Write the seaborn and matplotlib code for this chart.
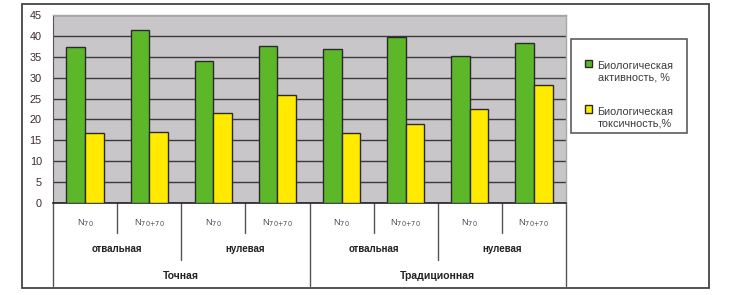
import matplotlib
matplotlib.use('Agg')
import matplotlib.pyplot as plt
from matplotlib.patches import Rectangle, Patch
import numpy as np
import pandas as pd
import seaborn as sns

# data
positions = ['0', '1', '2', '3', '4', '5', '6', '7']
n_labels = [r'N$_{70}$', r'N$_{70{+}70}$'] * 4
tillage = ['отвальная', 'нулевая', 'отвальная', 'нулевая']
technology = ['Точная', 'Традиционная']
activity = [37.4, 41.5, 34.0, 37.6, 36.8, 39.8, 35.2, 38.2]
toxicity = [16.7, 16.9, 21.6, 25.8, 16.7, 18.9, 22.4, 28.3]
series = ['Биологическая\nактивность, %', 'Биологическая\nтоксичность,%']

GREEN = '#5db829'
YELLOW = '#ffea00'
BG = '#c9c6c9'
EDGE = '#2a2a2a'

df = pd.DataFrame({
    'pos': positions * 2,
    'value': activity + toxicity,
    'series': [series[0]] * 8 + [series[1]] * 8,
})

sns.set_style('white')
plt.rcParams['font.family'] = ['Liberation Sans', 'DejaVu Sans']

W, H = 731, 295
fig = plt.figure(figsize=(W / 100, H / 100), dpi=100)
ax = fig.add_axes([53 / W, 1 - 203 / H, 513 / W, 188 / H])
ax.set_facecolor(BG)

sns.barplot(data=df, x='pos', y='value', hue='series', order=positions,
            palette=[GREEN, YELLOW], width=0.58, edgecolor=EDGE,
            linewidth=1.0, saturation=1, ax=ax, legend=False, zorder=3)

ax.set_ylim(0, 45)
ax.set_xlim(-0.5, 7.5)
ax.set_yticks(np.arange(0, 46, 5))
ax.yaxis.grid(True, color='#3a3a3a', linewidth=1.0, zorder=0)
ax.set_axisbelow(True)
ax.tick_params(axis='y', direction='out', length=5, width=1, color='#333333',
               labelsize=7.8, labelcolor='#3a2a2a', pad=3)
ax.tick_params(axis='x', length=0)
ax.set_xticks([])
ax.set_xlabel('')
ax.set_ylabel('')
for side in ['top', 'right']:
    ax.spines[side].set_color('#a8a8a8')
    ax.spines[side].set_linewidth(1)
ax.spines['left'].set_color('#555555')
ax.spines['bottom'].set_color('#222222')
ax.spines['bottom'].set_linewidth(1.2)

# category axis: three label rows with separators
tr = ax.get_xaxis_transform()
ax_h = 188.0


def yax(py):
    return -(py - 203) / ax_h


for i, lab in enumerate(n_labels):
    ax.text(i, yax(223), lab, transform=tr, ha='center', va='center',
            fontsize=6.8, color='#4a4a5a')
for j, lab in enumerate(tillage):
    ax.text(2 * j + 0.5, yax(249), lab, transform=tr, ha='center', va='center',
            fontsize=7, fontweight='bold', color='#222222')
for k, lab in enumerate(technology):
    ax.text(4 * k + 1.5, yax(276), lab, transform=tr, ha='center', va='center',
            fontsize=7.5, fontweight='bold', color='#222222')

seps = [(0.5, 233), (2.5, 233), (4.5, 233), (6.5, 233),
        (1.5, 260), (5.5, 260), (3.5, 286), (-0.5, 286), (7.5, 286)]
for xs, py in seps:
    ax.plot([xs, xs], [0, yax(py)], transform=tr, color='#555555',
            linewidth=1, clip_on=False)

# legend
handles = [Patch(facecolor=GREEN, edgecolor=EDGE, label=series[0]),
           Patch(facecolor=YELLOW, edgecolor=EDGE, label=series[1])]
leg = fig.legend(handles=handles, loc='upper left',
                 bbox_to_anchor=(571 / W, 1 - 39 / H), fontsize=7.8,
                 frameon=True, fancybox=False, edgecolor='#333333',
                 handlelength=0.7, handleheight=0.7, handletextpad=0.5,
                 labelspacing=2.2, borderpad=1.25, borderaxespad=0)
leg.get_frame().set_linewidth(1.2)
for t in leg.get_texts():
    t.set_color('#3a3a3a')
    t.set_va('center')

# outer frame of the chart
fig.add_artist(Rectangle((22 / W, 1 - 288 / H), (709 - 22) / W, (288 - 4) / H,
                         transform=fig.transFigure, fill=False,
                         edgecolor='#444444', linewidth=1.3))

fig.savefig('out.png', dpi=100)
